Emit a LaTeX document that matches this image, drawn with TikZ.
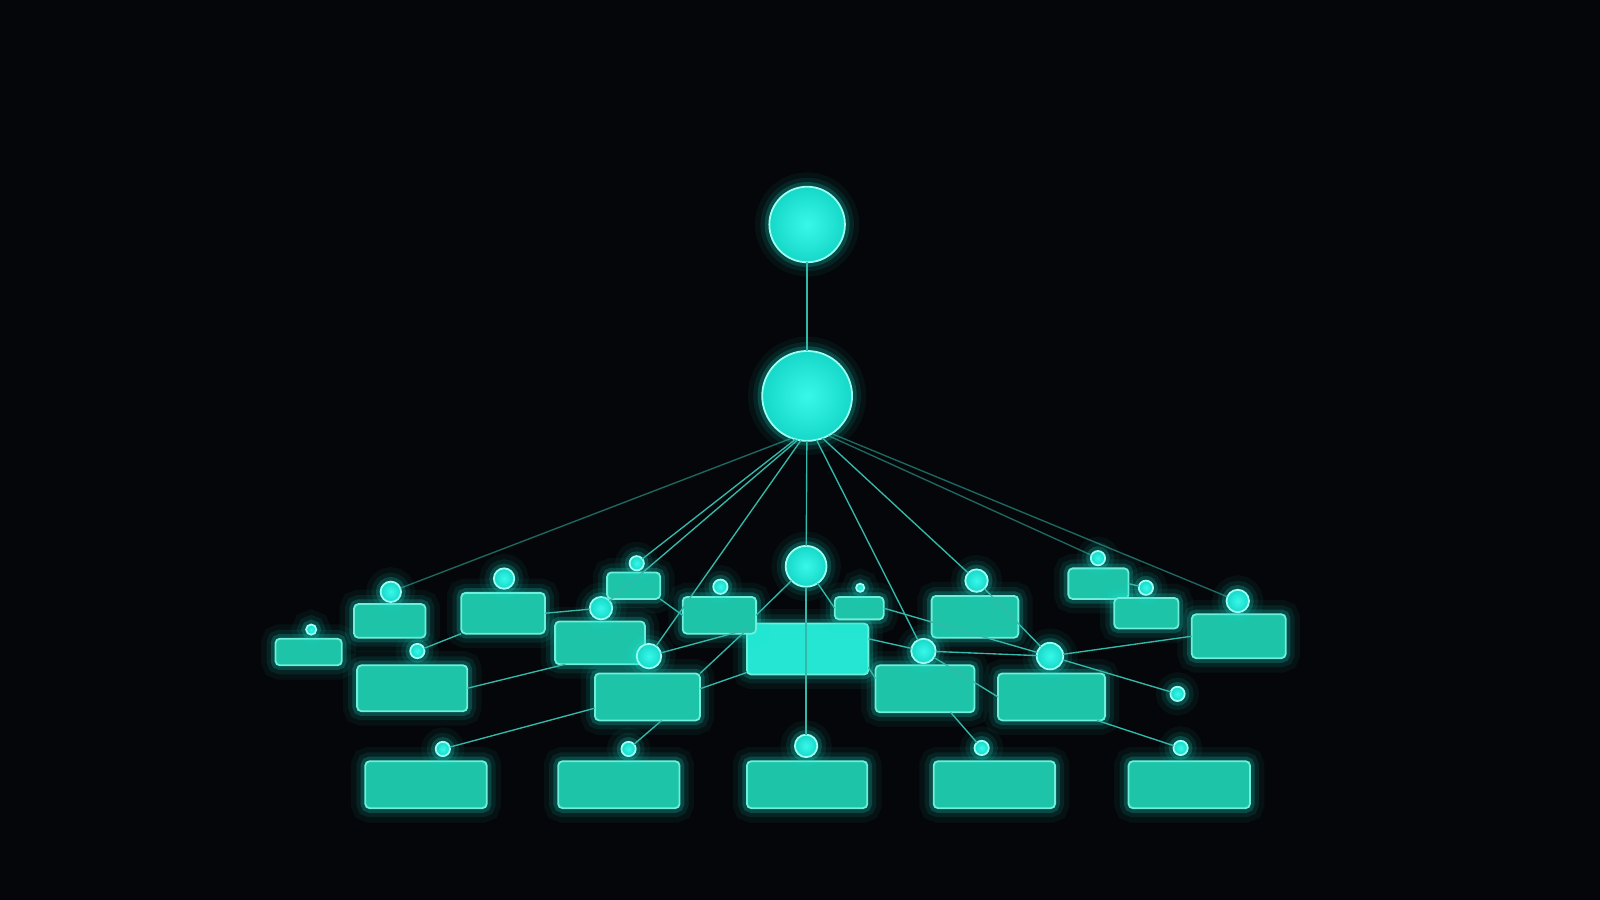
\documentclass[tikz,border=0pt]{standalone}
\usetikzlibrary{calc}
\definecolor{bgc}{HTML}{040609}
\definecolor{boxc}{HTML}{1DC4A8}
\definecolor{boxbright}{HTML}{24E6D2}
\definecolor{boxedge}{HTML}{6FF0DC}
\definecolor{ballin}{HTML}{38F8EA}
\definecolor{ballout}{HTML}{16D8C8}
\definecolor{balledge}{HTML}{9AFFF2}
\definecolor{glowc}{HTML}{19E6D2}
\definecolor{linec}{HTML}{34B8AA}
\tikzset{
  glow/.style={preaction={draw=glowc,line width=8pt,draw opacity=0.05},
               preaction={draw=glowc,line width=5pt,draw opacity=0.09},
               preaction={draw=glowc,line width=2.6pt,draw opacity=0.2}},
  box/.style={glow,rectangle,rounded corners=1.2pt,fill=boxc,draw=boxedge,line width=0.5pt,inner sep=0pt,outer sep=0pt},
  brightbox/.style={box,fill=boxbright},
  ball/.style={glow,circle,inner sep=0pt,outer sep=0pt,draw=balledge,line width=0.5pt,shading=radial,inner color=ballin,outer color=ballout},
  link/.style={draw=linec,line width=0.38pt},
  faint/.style={draw opacity=0.55}
}
\newcommand\bx[6][box]{\node[#1,minimum width=#5*0.01cm,minimum height=#6*0.01cm] (#2) at (#3,#4) {};}
\newcommand\ci[4]{\node[ball,minimum size=#4*0.02cm] (#1) at (#2,#3) {};}
\begin{document}
\begin{tikzpicture}[x=0.01cm,y=-0.01cm]
\fill[bgc] (0,0) rectangle (1568,882);
% main circles
\ci{T}{791}{220}{37}
\ci{B}{791}{388}{44}
\ci{M}{790}{555}{20}
\bx[brightbox]{C}{791.5}{636}{119}{50}
% bottom row
\bx{BB1}{417.5}{769}{119}{46}
\bx{BB2}{606.5}{769}{119}{46}
\bx{BB3}{791}{769}{118}{46}
\bx{BB4}{974.5}{769}{119}{46}
\bx{BB5}{1165.5}{769}{119}{46}
\ci{d1}{434}{734}{7}
\ci{d2}{616}{734}{7}
\ci{d3}{790}{731}{11}
\ci{d4}{962}{733}{7}
\ci{d5}{1157}{733}{7}
% left cluster
\bx{L1}{302.5}{639}{65}{26}   \ci{cL1}{305}{617}{5}
\bx{L2}{382}{608.5}{70}{33}   \ci{cL2}{383}{580}{10}
\bx{L3}{493}{601}{82}{40}     \ci{cL3}{494}{567}{10}
\bx{L4}{404}{674.5}{108}{45}  \ci{cL4}{409}{638}{7}
\bx{L5}{588}{630}{88}{42}     \ci{cL5}{589}{596}{11}
\bx{L6}{621}{574}{52}{26}     \ci{cL6}{624}{552}{7}
\bx{L7}{634.5}{683}{103}{46}  \ci{cL7}{636}{643}{12}
\bx{L8}{705}{603}{72}{36}     \ci{cL8}{706}{575}{7}
% right cluster
\bx{R1}{842}{596}{48}{22}     \ci{cR1}{843}{576}{4}
\bx{R2}{955.5}{604.5}{85}{41} \ci{cR2}{957}{569}{11}
\bx{R3}{906.5}{675}{97}{46}   \ci{cR3}{905}{638}{12}
\bx{R4}{1030.5}{683}{105}{46} \ci{cR4}{1029}{643}{13}
\bx{R5}{1076.5}{572}{59}{30}  \ci{cR5}{1076}{547}{7}
\bx{R6}{1123.5}{601}{63}{30}  \ci{cR6}{1123}{576}{7}
\bx{R7}{1214}{623.5}{92}{43}  \ci{cR7}{1213}{589}{11}
\ci{F}{1154}{680}{7}
% connectors
\draw[link] (T) -- (B);
\draw[link] (B) -- (M);
\draw[link] (M) -- (d3);
\draw[link,faint] (B.250) -- (cL2);
\draw[link] (B.255) -- (cL6);
\draw[link] (B.258) -- (cL5);
\draw[link] (B.262) -- (cL7);
\draw[link] (B.282) -- (cR3);
\draw[link] (B.290) -- (cR2);
\draw[link,faint] (B.298) -- (cR5);
\draw[link,faint] (B.303) -- (cR7);
\draw[link] (L3.east) -- (cL5);
\draw[link] (cL4) -- (L3.south west);
\draw[link] (L4.east) -- ($(L5.south west)+(10,0)$);
\draw[link] (L6.south east) -- (L8.west);
\draw[link] (cL7) -- ($(C.north west)+(0,6)$);
\draw[link] ($(C.north west)+(0,6)$) -- (L7.north east);
\draw[link] ($(C.south west)+(0,-2)$) -- ($(L7.east)+(0,-8)$);
\draw[link] (L8.east) -- (M);
\draw[link] (M) -- (R1.west);
\draw[link] ($(L7.south)+(14,0)$) -- (d2);
\draw[link] (d1) -- ($(L7.south west)+(0,-12)$);
\draw[link] (R1.east) -- (cR4);
\draw[link] ($(C.east)+(0,-10)$) -- (cR3);
\draw[link] ($(C.east)+(0,18)$) -- ($(R3.west)+(0,-10)$);
\draw[link] (cR3) -- (R4.west);
\draw[link] (cR3) -- (cR4);
\draw[link] (cR2) -- (cR4);
\draw[link] (cR4) -- (R7.west);
\draw[link] (cR4) -- (F);
\draw[link] ($(R4.south east)+(-8,0)$) -- (d5);
\draw[link] ($(R3.south)+(25,0)$) -- (d4);
\draw[link] (R5.east) -- (cR6);
\end{tikzpicture}
\end{document}
